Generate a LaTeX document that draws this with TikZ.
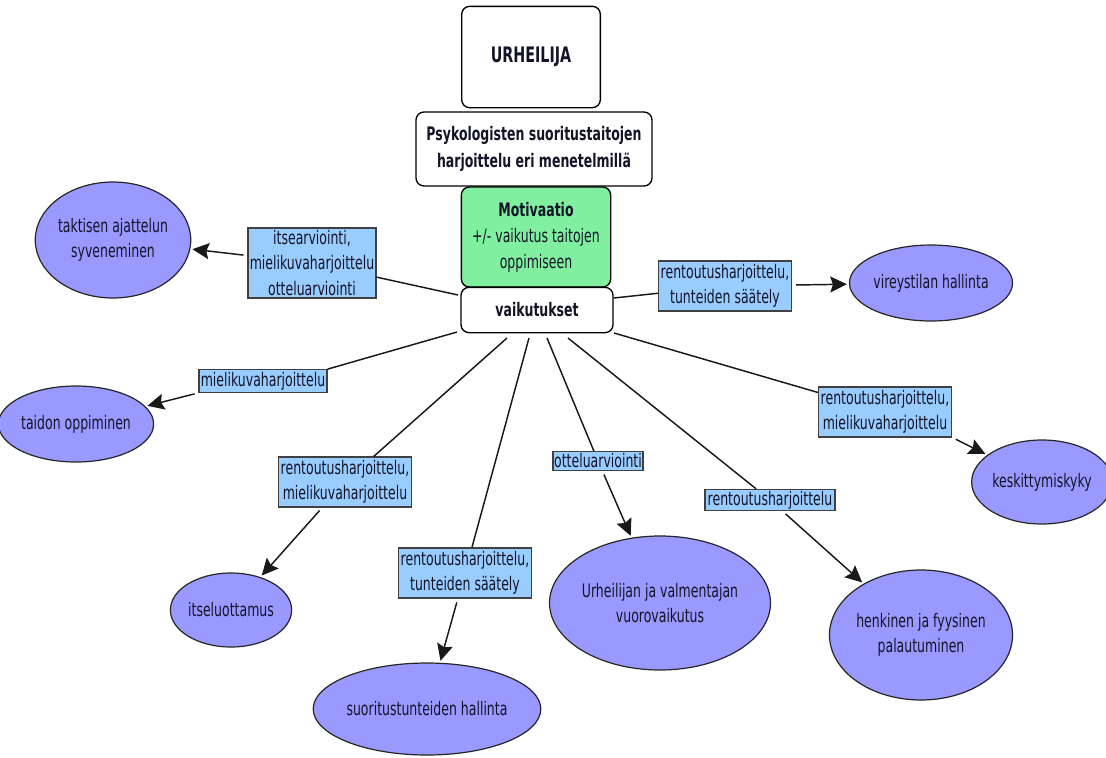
\documentclass[tikz,border=0pt]{standalone}
\usepackage{fontspec}
\setmainfont{DejaVu Sans}[FakeStretch=0.67]
\usetikzlibrary{shapes.geometric,arrows.meta,calc}
\definecolor{ovalfill}{RGB}{153,153,255}
\definecolor{tagfill}{RGB}{153,204,255}
\definecolor{motivfill}{RGB}{128,240,160}
\definecolor{ink}{RGB}{20,20,40}
\begin{document}
\begin{tikzpicture}[x=0.75pt,y=-0.75pt,
  every node/.style={font=\fontsize{14}{18.8}\selectfont, text=ink},
  box/.style={draw=black, rounded corners=6pt, line width=1pt, fill=white,
              align=center, inner sep=0pt, font=\fontsize{14}{20}\selectfont\bfseries},
  oval/.style={ellipse, draw=black!85, fill=ovalfill, line width=0.9pt,
               align=center, inner sep=0pt},
  tag/.style={draw=black!75, fill=tagfill, line width=0.8pt, align=center,
              inner sep=0pt},
  link/.style={line width=1.1pt, black!90},
  arr/.style={line width=1.1pt, black!90, shorten <=3pt, shorten >=1.5pt,
              -{Stealth[length=12.5pt,width=12pt,inset=2pt]}}]

\fill[white] (0,0) rectangle (1106,757);
\path[use as bounding box] (0,0) rectangle (1106,757);

% central column
\node[box, minimum width=104pt, minimum height=76pt,
      font=\fontsize{16}{20}\selectfont\bfseries] (urh) at (531,57) {URHEILIJA};
\node[box, minimum width=177pt, minimum height=55.5pt] (psy) at (534,149)
  {Psykologisten suoritustaitojen\\harjoittelu eri menetelmillä};
\node[box, fill=motivfill, minimum width=112pt, minimum height=75pt,
      font=\fontsize{14}{19.5}\selectfont] (mot) at (536,237)
  {\textbf{Motivaatio}\\+/- vaikutus taitojen\\oppimiseen};
\node[box, minimum width=114pt, minimum height=34pt] (vaik) at (537,310) {vaikutukset};

% outcomes
\node[oval, minimum width=105pt, minimum height=87pt] (tak) at (113,240)
  {taktisen ajattelun\\syveneminen};
\node[oval, minimum width=99pt, minimum height=57pt] (tai) at (76,424) {taidon oppiminen};
\node[oval, minimum width=78pt, minimum height=55.5pt] (its) at (231,610) {itseluottamus};
\node[oval, minimum width=135pt, minimum height=69pt] (suo) at (427,709)
  {suoritustunteiden hallinta};
\node[oval, minimum width=142.5pt, minimum height=100.5pt] (urv) at (660,603)
  {Urheilijan ja valmentajan\\vuorovaikutus};
\node[oval, minimum width=115.5pt, minimum height=97.5pt] (hen) at (921,635)
  {henkinen ja fyysinen\\palautuminen};
\node[oval, minimum width=90pt, minimum height=63pt] (kes) at (1042,482) {keskittymiskyky};
\node[oval, minimum width=102pt, minimum height=57pt] (vir) at (931,283) {vireystilan hallinta};

% methods
\node[tag, minimum width=96pt, minimum height=52.5pt] (m1) at (312,263)
  {itsearviointi,\\mielikuvaharjoittelu\\otteluarviointi};
\node[tag, minimum width=96pt, minimum height=17pt] (m2) at (263,381) {mielikuvaharjoittelu};
\node[tag, minimum width=100pt, minimum height=37.5pt] (m3) at (345,482)
  {rentoutusharjoittelu,\\mielikuvaharjoittelu};
\node[tag, minimum width=100pt, minimum height=37.5pt] (m4) at (465,573)
  {rentoutusharjoittelu,\\tunteiden säätely};
\node[tag, minimum width=67.5pt, minimum height=14pt] (m5) at (598,461) {otteluarviointi};
\node[tag, minimum width=97.5pt, minimum height=16pt] (m6) at (770,500) {rentoutusharjoittelu};
\node[tag, minimum width=100pt, minimum height=37.5pt] (m7) at (885,412)
  {rentoutusharjoittelu,\\mielikuvaharjoittelu};
\node[tag, minimum width=100pt, minimum height=37.5pt] (m8) at (725,286)
  {rentoutusharjoittelu,\\tunteiden säätely};

% starting points around the vaikutukset box
\coordinate (s1) at ($(vaik.center)+(-79,-15)$);
\coordinate (s2) at ($(vaik.center)+(-80,22)$);
\coordinate (s3) at ($(vaik.center)+(-30,28)$);
\coordinate (s4) at ($(vaik.center)+(-8,28)$);
\coordinate (s5) at ($(vaik.center)+(10,28)$);
\coordinate (s6) at ($(vaik.center)+(31,28)$);
\coordinate (s7) at ($(vaik.center)+(77,23)$);
\coordinate (s8) at ($(vaik.center)+(77,-12)$);

% lines to the methods
\draw[link] (s1) -- (m1);
\draw[link] (s2) -- (m2.north east);
\draw[link] (s3) -- (m3);
\draw[link] (s4) -- (m4);
\draw[link] (s5) -- (m5);
\draw[link] (s6) -- (m6);
\draw[link] (s7) -- (m7);
\draw[link] (s8) -- (m8);

% arrows to the outcomes
\draw[arr] (m1) -- (tak);
\draw[arr] (m2.south west) -- (tai);
\draw[arr] (m3) -- (its);
\draw[arr] (m4) -- (suo);
\draw[arr] (m5) -- (urv);
\draw[arr] (m6) -- (hen);
\draw[arr] (m7.south east) -- (kes);
\draw[arr] (m8) -- (vir);
\end{tikzpicture}
\end{document}
